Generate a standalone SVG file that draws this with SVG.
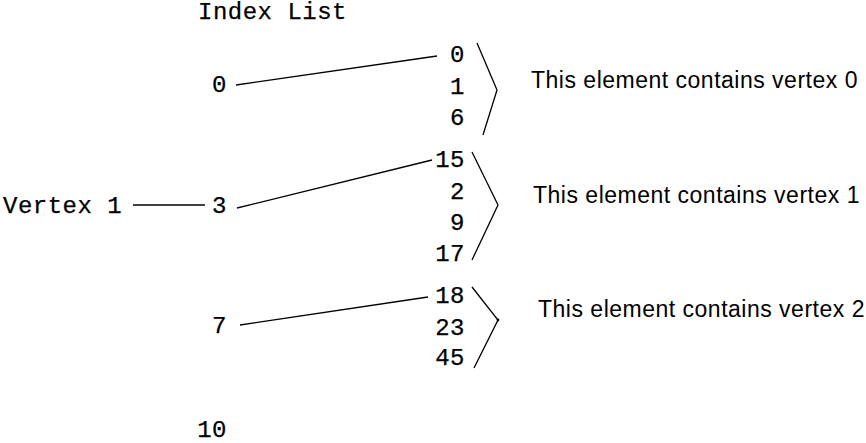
<svg xmlns="http://www.w3.org/2000/svg" width="866" height="443" viewBox="0 0 866 443">
  <style>
    .mono { font-family: "Liberation Mono", "Courier New", monospace; font-size: 24px; letter-spacing: 0.5px; fill: #000; stroke: #000; stroke-width: 0.25; }
    .num { text-anchor: end; }
    .label { font-family: "Liberation Sans", Arial, sans-serif; font-size: 23px; letter-spacing: 0.5px; fill: #000; }
    .wire { stroke: #000; stroke-width: 1.3; fill: none; }
  </style>
  <rect width="866" height="443" fill="#fff"/>

  <!-- heading -->
  <g id="title">
    <text class="mono" x="198" y="19">Index List</text>
  </g>

  <!-- vertex label -->
  <g id="vertex-1">
    <text class="mono" x="3" y="213">Vertex 1</text>
  </g>

  <!-- index list entries -->
  <g id="index-0"><text class="mono num" x="227" y="92">0</text></g>
  <g id="index-3"><text class="mono num" x="227" y="213">3</text></g>
  <g id="index-7"><text class="mono num" x="227" y="333">7</text></g>
  <g id="index-10"><text class="mono num" x="227" y="437">10</text></g>

  <!-- element blocks -->
  <g id="element-0">
    <text class="mono num" x="465" y="62">0</text>
    <text class="mono num" x="465" y="94">1</text>
    <text class="mono num" x="465" y="125">6</text>
  </g>
  <g id="element-1">
    <text class="mono num" x="465" y="167">15</text>
    <text class="mono num" x="465" y="199">2</text>
    <text class="mono num" x="465" y="230">9</text>
    <text class="mono num" x="465" y="261">17</text>
  </g>
  <g id="element-2">
    <text class="mono num" x="465" y="303">18</text>
    <text class="mono num" x="465" y="335">23</text>
    <text class="mono num" x="465" y="365">45</text>
  </g>

  <!-- element descriptions -->
  <g id="desc-0"><text class="label" x="531" y="88">This element contains vertex 0</text></g>
  <g id="desc-1"><text class="label" x="533" y="203">This element contains vertex 1</text></g>
  <g id="desc-2"><text class="label" x="538" y="317">This element contains vertex 2</text></g>

  <!-- connectors and braces -->
  <g id="connectors" class="wire">
    <line x1="133" y1="205" x2="205" y2="205"/>
    <line x1="236" y1="85" x2="437" y2="56"/>
    <line x1="237" y1="208" x2="432" y2="160"/>
    <line x1="240" y1="325" x2="428" y2="297"/>
    <polyline points="477,43 497,90 483,135"/>
    <polyline points="472,152 498,205 472,260"/>
    <polyline points="472,287 498,320 474,368"/>
    <circle cx="498" cy="320" r="1.4" fill="#000" stroke="none"/>
  </g>
</svg>
